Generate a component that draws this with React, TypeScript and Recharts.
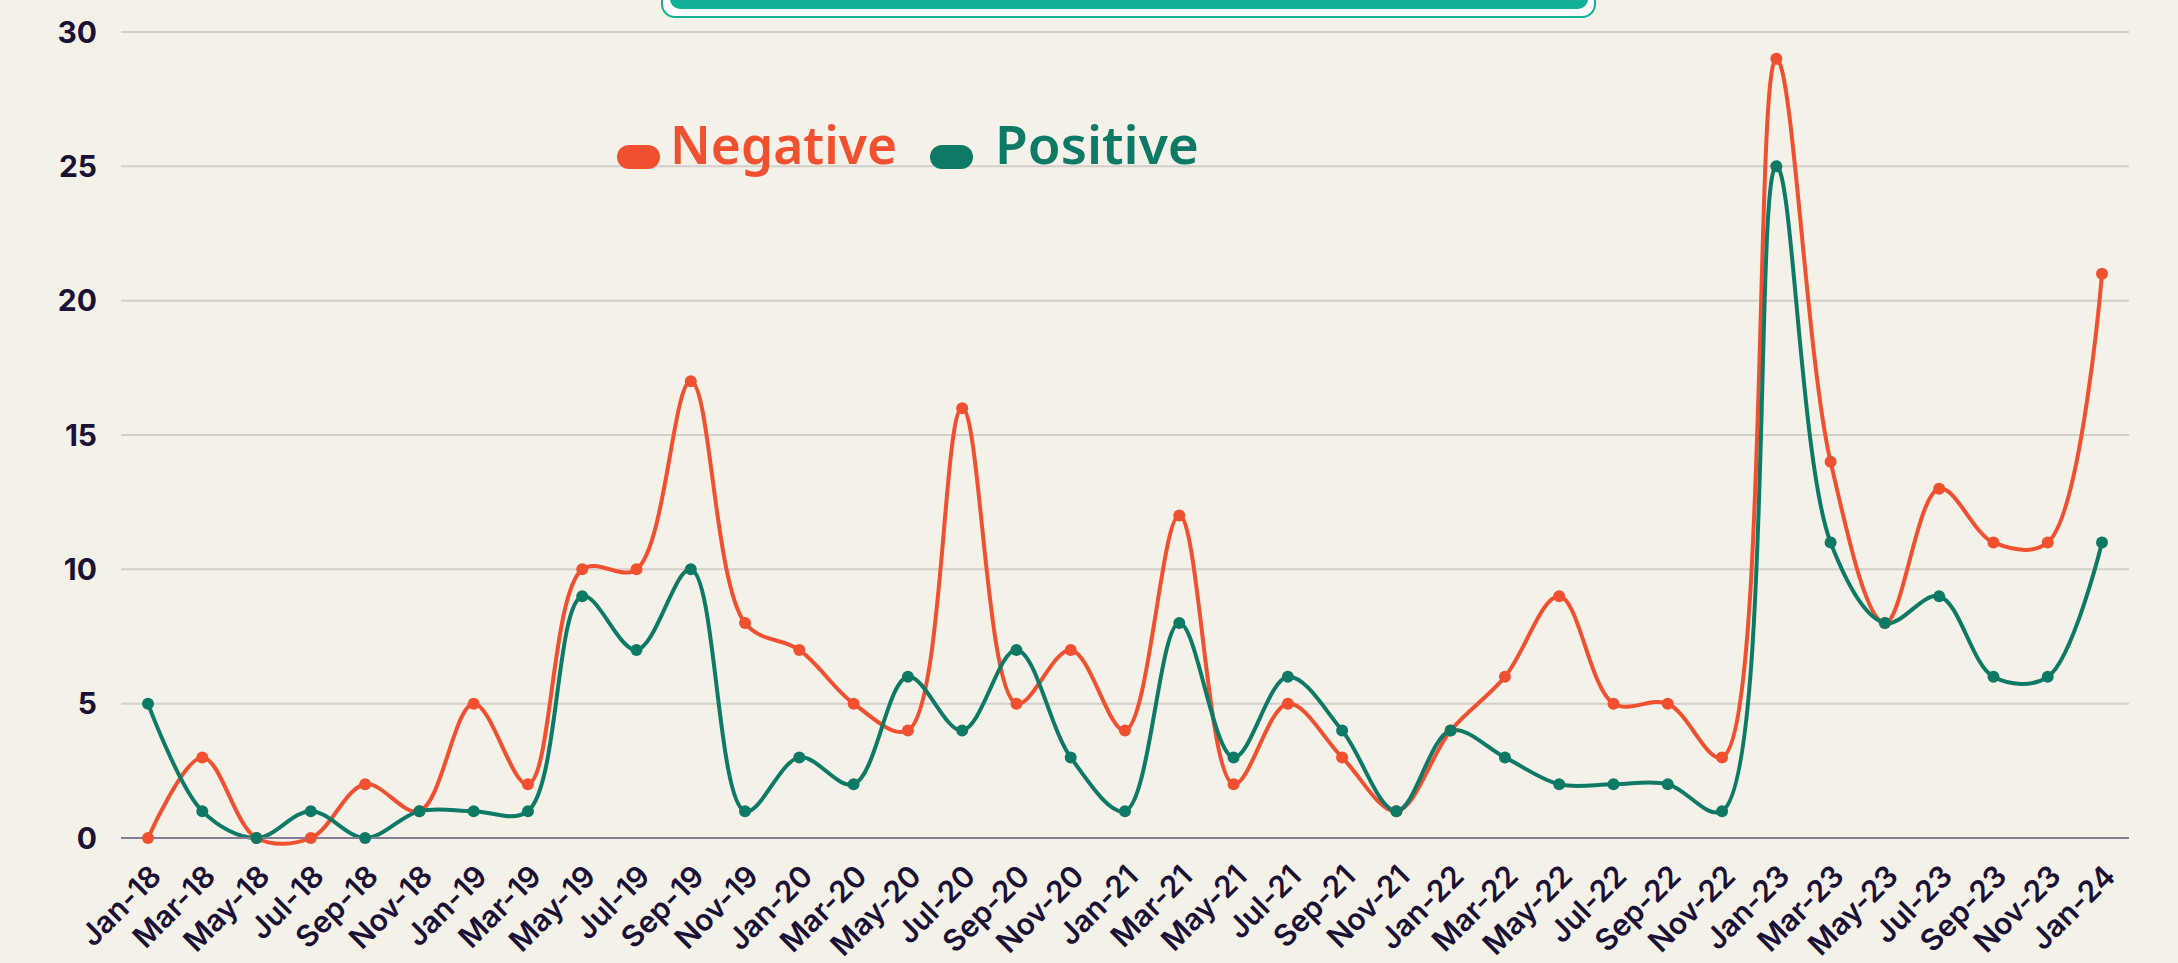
import React from 'react';
import { LineChart, Line, XAxis, YAxis, CartesianGrid } from 'recharts';

const months = [
  'Jan-18', 'Mar-18', 'May-18', 'Jul-18', 'Sep-18', 'Nov-18',
  'Jan-19', 'Mar-19', 'May-19', 'Jul-19', 'Sep-19', 'Nov-19',
  'Jan-20', 'Mar-20', 'May-20', 'Jul-20', 'Sep-20', 'Nov-20',
  'Jan-21', 'Mar-21', 'May-21', 'Jul-21', 'Sep-21', 'Nov-21',
  'Jan-22', 'Mar-22', 'May-22', 'Jul-22', 'Sep-22', 'Nov-22',
  'Jan-23', 'Mar-23', 'May-23', 'Jul-23', 'Sep-23', 'Nov-23',
  'Jan-24',
];

const negative = [
  0, 3, 0, 0, 2, 1,
  5, 2, 10, 10, 17, 8,
  7, 5, 4, 16, 5, 7,
  4, 12, 2, 5, 3, 1,
  4, 6, 9, 5, 5, 3,
  29, 14, 8, 13, 11, 11,
  21,
];

const positive = [
  5, 1, 0, 1, 0, 1,
  1, 1, 9, 7, 10, 1,
  3, 2, 6, 4, 7, 3,
  1, 8, 3, 6, 4, 1,
  4, 3, 2, 2, 2, 1,
  25, 11, 8, 9, 6, 6,
  11,
];

const yTicks = [0, 5, 10, 15, 20, 25, 30];

const NEG = '#f0502f';
const POS = '#0e7a66';
const BG = '#f4f1e9';
const INK = '#1b1136';

const data = months.map((m, i) => ({ month: m, negative: negative[i], positive: positive[i] }));

// centripetal catmull-rom, close to the spreadsheet smoothing
const smooth = (context: any) => {
  let pts: number[][] = [];
  const dist = (a: number[], b: number[]) => Math.sqrt(Math.hypot(a[0] - b[0], a[1] - b[1]));
  return {
    areaStart() {},
    areaEnd() {},
    lineStart() {
      pts = [];
    },
    point(x: number, y: number) {
      pts.push([+x, +y]);
    },
    lineEnd() {
      const n = pts.length;
      if (!n) return;
      context.moveTo(pts[0][0], pts[0][1]);
      for (let i = 0; i < n - 1; i++) {
        const p0 = pts[i - 1];
        const p1 = pts[i];
        const p2 = pts[i + 1];
        const p3 = pts[i + 2];
        const l12 = dist(p1, p2);
        const l12s = l12 * l12;
        let c1 = p1;
        let c2 = p2;
        if (p0) {
          const l01 = dist(p0, p1);
          const l01s = l01 * l01;
          if (l01 > 1e-6) {
            const a = 2 * l01s + 3 * l01 * l12 + l12s;
            const k = 3 * l01 * (l01 + l12);
            c1 = [
              (p1[0] * a - p0[0] * l12s + p2[0] * l01s) / k,
              (p1[1] * a - p0[1] * l12s + p2[1] * l01s) / k,
            ];
          }
        }
        if (p3) {
          const l23 = dist(p2, p3);
          const l23s = l23 * l23;
          if (l23 > 1e-6) {
            const b = 2 * l23s + 3 * l23 * l12 + l12s;
            const m = 3 * l23 * (l23 + l12);
            c2 = [
              (p2[0] * b + p1[0] * l23s - p3[0] * l12s) / m,
              (p2[1] * b + p1[1] * l23s - p3[1] * l12s) / m,
            ];
          }
        }
        context.bezierCurveTo(c1[0], c1[1], c2[0], c2[1], p2[0], p2[1]);
      }
    },
  };
};

const legendItems = [
  { label: 'Negative', color: NEG, iconX: 617, textX: 670, textW: 227 },
  { label: 'Positive', color: POS, iconX: 930, textX: 995, textW: 204 },
];

function ChartLegend() {
  return (
    <svg
      width={2178}
      height={963}
      style={{ position: 'absolute', left: 0, top: 0, pointerEvents: 'none' }}
    >
      {legendItems.map((it) => (
        <g key={it.label}>
          <rect x={it.iconX} y={145} width={43} height={24} rx={12} fill={it.color} />
          <text
            x={it.textX}
            y={164}
            fill={it.color}
            fontSize={53}
            fontWeight={600}
            fontFamily='"Noto Sans", sans-serif'
            textLength={it.textW}
            lengthAdjust="spacingAndGlyphs"
          >
            {it.label}
          </text>
        </g>
      ))}
    </svg>
  );
}

export default function App() {
  return (
    <div
      style={{
        position: 'absolute',
        left: 0,
        top: 0,
        width: 2178,
        height: 963,
        background: BG,
        overflow: 'hidden',
      }}
    >
      <div
        style={{
          position: 'absolute',
          left: 661,
          top: -40,
          width: 935,
          height: 58,
          boxSizing: 'border-box',
          border: '2px solid #12b095',
          borderRadius: 14,
          background: '#ffffff',
        }}
      />
      <div
        style={{
          position: 'absolute',
          left: 670,
          top: -40,
          width: 918,
          height: 49,
          borderRadius: 10,
          background: '#12b095',
        }}
      />
      <LineChart width={2178} height={963} data={data} margin={{ top: 32, right: 49, left: 0, bottom: 0 }}>
        <CartesianGrid vertical={false} stroke="#d3cfca" strokeWidth={2} />
        <XAxis
          dataKey="month"
          interval={0}
          padding={{ left: 27, right: 27 }}
          height={125}
          tickLine={false}
          tickSize={0}
          tickMargin={25}
          axisLine={{ stroke: '#857b94', strokeWidth: 2 }}
          angle={-45}
          textAnchor="end"
          tick={{ fill: INK, fontSize: 30, fontWeight: 600, fontFamily: 'Inter, sans-serif' }}
        />
        <YAxis
          domain={[0, 30]}
          ticks={yTicks}
          width={121}
          axisLine={false}
          tickLine={false}
          tickSize={0}
          tickMargin={24}
          tick={{ fill: INK, fontSize: 30, fontWeight: 700, fontFamily: 'Inter, sans-serif' }}
        />
        <Line
          type={smooth as any}
          dataKey="negative"
          stroke={NEG}
          strokeWidth={4}
          dot={{ r: 6, fill: NEG, stroke: NEG, strokeWidth: 0 }}
          activeDot={false}
          isAnimationActive={false}
        />
        <Line
          type={smooth as any}
          dataKey="positive"
          stroke={POS}
          strokeWidth={4}
          dot={{ r: 6, fill: POS, stroke: POS, strokeWidth: 0 }}
          activeDot={false}
          isAnimationActive={false}
        />
      </LineChart>
      <ChartLegend />
    </div>
  );
}
